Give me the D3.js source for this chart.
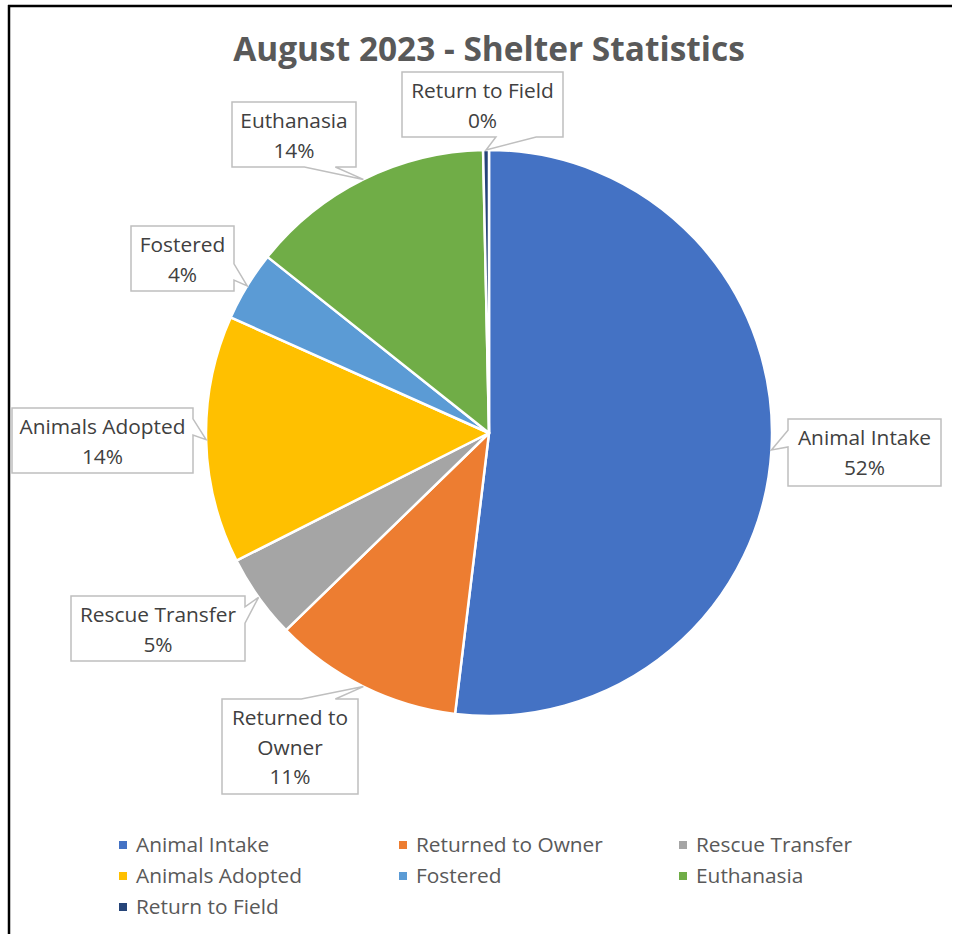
<!DOCTYPE html>
<html>
<head>
<meta charset="utf-8">
<script src="https://cdn.jsdelivr.net/npm/d3@7"></script>
<style>
  body { margin: 0; background: #fff; }
  svg { display: block; font-family: "Open Sans", "Noto Sans", sans-serif; }
</style>
</head>
<body>
<div id="chart"></div>
<script>
// chart data
var categories = ["Animal Intake", "Returned to Owner", "Rescue Transfer", "Animals Adopted", "Fostered", "Euthanasia", "Return to Field"];
var counts = [312, 65, 29, 85, 24, 84, 2];
var percentLabels = ["52%", "11%", "5%", "14%", "4%", "14%", "0%"];
var labelLines = [["Animal Intake"], ["Returned to", "Owner"], ["Rescue Transfer"], ["Animals Adopted"], ["Fostered"], ["Euthanasia"], ["Return to Field"]];
var colors = ["#4472C4", "#ED7D31", "#A5A5A5", "#FFC000", "#5B9BD5", "#70AD47", "#264478"];

// callout box layout (center, size)
var labelBoxes = [
  {cx: 864.5, cy: 452.5, w: 153, h: 67},
  {cx: 290, cy: 746.5, w: 136, h: 95},
  {cx: 158, cy: 628.5, w: 174, h: 65},
  {cx: 102.5, cy: 440.5, w: 181, h: 65},
  {cx: 182.5, cy: 258.5, w: 103, h: 65},
  {cx: 294, cy: 134.5, w: 124, h: 65},
  {cx: 482.5, cy: 104.5, w: 161, h: 65}
];

var svgWidth = 961;
var svgHeight = 934;
var cx = 489, cy = 433, radius = 283;

var svg = d3.select("#chart").append("svg")
  .attr("width", svgWidth)
  .attr("height", svgHeight);

// fit a text element's font size so that it reaches a target width
function fitSize(text, size, target) {
  var t = svg.append("text").style("font-size", size + "px").text(text);
  var w = t.node().getComputedTextLength();
  t.remove();
  return size * target / w;
}

var titleSize = fitSize("August 2023 - Shelter Statistics", 28, 478);
var labelSize = fitSize("Animals Adopted", 19, 166);
var legendSize = fitSize("Returned to Owner", 20, 187);

// frame lines
svg.append("line").attr("x1", 8).attr("x2", 952).attr("y1", 6).attr("y2", 6)
  .attr("stroke", "#000").attr("stroke-width", 2.5);
svg.append("line").attr("x1", 9).attr("x2", 9).attr("y1", 5).attr("y2", svgHeight)
  .attr("stroke", "#000").attr("stroke-width", 2.5);

// title
svg.append("text")
  .attr("x", 489)
  .attr("y", 61)
  .attr("text-anchor", "middle")
  .style("font-size", titleSize + "px")
  .style("font-weight", "bold")
  .attr("fill", "#595959")
  .text("August 2023 - Shelter Statistics");

// pie
var pie = d3.pie().sort(null).value(d => d);
var arcs = pie(counts);
var arc = d3.arc().innerRadius(0).outerRadius(radius);

var pieGroup = svg.append("g").attr("transform", `translate(${cx}, ${cy})`);
pieGroup.selectAll("path")
  .data(arcs)
  .enter()
  .append("path")
  .attr("d", arc)
  .attr("fill", (d, i) => colors[i])
  .attr("stroke", "#fff")
  .attr("stroke-width", 2.5)
  .attr("stroke-linejoin", "round");

// callout outline: rectangle with a wedge pointing at (tx, ty)
function calloutPath(b, tx, ty) {
  var x0 = b.cx - b.w / 2, x1 = b.cx + b.w / 2;
  var y0 = b.cy - b.h / 2, y1 = b.cy + b.h / 2;
  var dx = (tx - b.cx) / b.w, dy = (ty - b.cy) / b.h;
  var p = d3.path();
  p.moveTo(x0, y0);
  if (Math.abs(dy) >= Math.abs(dx) && dy < 0) {
    var a = dx > 0 ? x0 + b.w * 7 / 12 : x0 + b.w * 2 / 12;
    var c = dx > 0 ? x0 + b.w * 10 / 12 : x0 + b.w * 5 / 12;
    p.lineTo(a, y0); p.lineTo(tx, ty); p.lineTo(c, y0);
  }
  p.lineTo(x1, y0);
  if (Math.abs(dx) > Math.abs(dy) && dx > 0) {
    var a2 = dy > 0 ? y0 + b.h * 7 / 12 : y0 + b.h * 2 / 12;
    var c2 = dy > 0 ? y0 + b.h * 10 / 12 : y0 + b.h * 5 / 12;
    p.lineTo(x1, a2); p.lineTo(tx, ty); p.lineTo(x1, c2);
  }
  p.lineTo(x1, y1);
  if (Math.abs(dy) >= Math.abs(dx) && dy > 0) {
    var a3 = dx > 0 ? x0 + b.w * 10 / 12 : x0 + b.w * 5 / 12;
    var c3 = dx > 0 ? x0 + b.w * 7 / 12 : x0 + b.w * 2 / 12;
    p.lineTo(a3, y1); p.lineTo(tx, ty); p.lineTo(c3, y1);
  }
  p.lineTo(x0, y1);
  if (Math.abs(dx) > Math.abs(dy) && dx < 0) {
    var a4 = dy > 0 ? y0 + b.h * 10 / 12 : y0 + b.h * 5 / 12;
    var c4 = dy > 0 ? y0 + b.h * 7 / 12 : y0 + b.h * 2 / 12;
    p.lineTo(x0, a4); p.lineTo(tx, ty); p.lineTo(x0, c4);
  }
  p.closePath();
  return p.toString();
}

// data labels
var labelGroup = svg.append("g");
arcs.forEach(function(d, i) {
  var b = labelBoxes[i];
  var mid = (d.startAngle + d.endAngle) / 2;
  var tx = cx + radius * Math.sin(mid);
  var ty = cy - radius * Math.cos(mid);

  labelGroup.append("path")
    .attr("d", calloutPath(b, tx, ty))
    .attr("fill", "#fff")
    .attr("stroke", "#BFBFBF")
    .attr("stroke-width", 1.5);

  var lines = labelLines[i].concat([percentLabels[i]]);
  var top = b.cy - b.h / 2;
  lines.forEach(function(line, j) {
    labelGroup.append("text")
      .attr("x", b.cx)
      .attr("y", top + 19 + j * 29.5)
      .attr("dy", "0.35em")
      .attr("text-anchor", "middle")
      .style("font-size", labelSize + "px")
      .attr("fill", "#404040")
      .text(line);
  });
});

// legend
var legendCols = [119, 399, 679];
var legendRows = [845, 876, 907];
var legend = svg.append("g").selectAll("g")
  .data(categories)
  .enter()
  .append("g")
  .attr("transform", (d, i) => `translate(${legendCols[i % 3]}, ${legendRows[Math.floor(i / 3)]})`);

legend.append("rect")
  .attr("x", 0)
  .attr("y", -4)
  .attr("width", 8)
  .attr("height", 8)
  .attr("fill", (d, i) => colors[i]);

legend.append("text")
  .attr("x", 17)
  .attr("y", 0)
  .attr("dy", "0.35em")
  .style("font-size", legendSize + "px")
  .attr("fill", "#595959")
  .text(d => d);
</script>
</body>
</html>
